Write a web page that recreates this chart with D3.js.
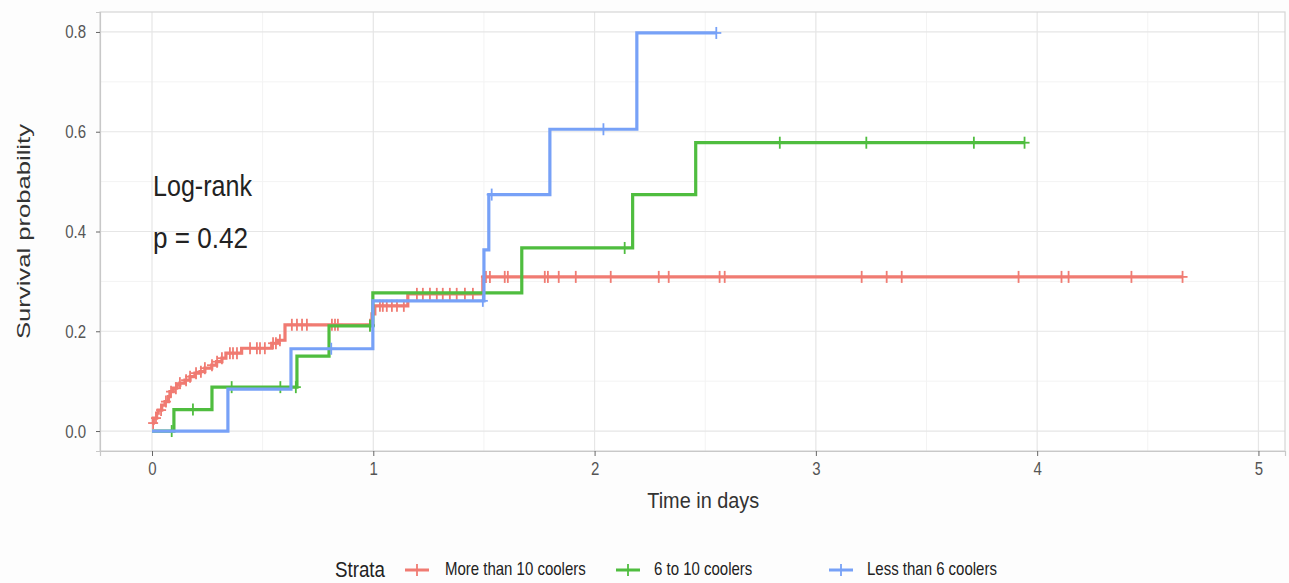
<!DOCTYPE html>
<html>
<head>
<meta charset="utf-8">
<script src="https://cdn.jsdelivr.net/npm/d3@7"></script>
<style>
  body { margin: 0; background: #fdfdfd; }
  svg text { font-family: "Liberation Sans", Arial, sans-serif; }
</style>
</head>
<body>
<svg id="chart"></svg>
<script>
const width = 1289;
const height = 583;

// Strata
const strata = ["More than 10 coolers", "6 to 10 coolers", "Less than 6 coolers"];
const colors = ["#f07b72", "#4fbd3f", "#77a1f7"];

// More than 10 coolers: step times and values
const redTimes = [0, 0.006, 0.021, 0.028, 0.044, 0.059, 0.074, 0.081, 0.096, 0.112, 0.126, 0.149, 0.172, 0.194,
    0.217, 0.239, 0.270, 0.292, 0.316, 0.334, 0.405, 0.541, 0.569, 0.601, 0.994, 1.007, 1.156, 1.495];
const redValues = [0.016, 0.026, 0.036, 0.042, 0.052, 0.059, 0.069, 0.079, 0.086, 0.092, 0.096, 0.102, 0.109, 0.116,
    0.119, 0.126, 0.132, 0.139, 0.146, 0.156, 0.166, 0.176, 0.182, 0.213, 0.235, 0.251, 0.275, 0.309];
const redEnd = 4.657;
const redCensor = [0.005, 0.018, 0.041, 0.063, 0.086, 0.108, 0.126, 0.154, 0.172, 0.199, 0.221, 0.239, 0.271, 0.294,
    0.316, 0.352, 0.366, 0.384, 0.443, 0.474, 0.488, 0.510, 0.547, 0.560, 0.578, 0.632, 0.655, 0.678, 0.700,
    0.813, 0.827, 0.840, 0.985, 1.030, 1.043, 1.061, 1.084, 1.107, 1.138, 1.197, 1.224, 1.256, 1.287, 1.314,
    1.346, 1.377, 1.414, 1.450, 1.509, 1.527, 1.594, 1.608, 1.671, 1.775, 1.789, 1.838, 1.915, 2.073, 2.290,
    2.335, 2.565, 2.588, 3.207, 3.320, 3.388, 3.916, 4.110, 4.142, 4.426, 4.657];

// 6 to 10 coolers
const greenTimes = [0, 0.099, 0.271, 0.655, 0.800, 0.998, 1.671, 2.172, 2.457];
const greenValues = [0, 0.043, 0.088, 0.150, 0.211, 0.277, 0.367, 0.474, 0.578];
const greenEnd = 3.943;
const greenCensor = [0.089, 0.185, 0.360, 0.580, 0.650, 0.985, 2.136, 2.837, 3.228, 3.714, 3.943];

// Less than 6 coolers
const blueTimes = [0, 0.343, 0.628, 0.998, 1.500, 1.522, 1.798, 2.191];
const blueValues = [0, 0.084, 0.165, 0.261, 0.363, 0.474, 0.605, 0.798];
const blueEnd = 2.55;
const blueCensor = [0.810, 1.495, 1.535, 2.040, 2.550];

const xTicks = [0, 1, 2, 3, 4, 5];
const yTicks = [0, 0.2, 0.4, 0.6, 0.8];

const series = [
    { times: redTimes, values: redValues, end: redEnd, censor: redCensor },
    { times: greenTimes, values: greenValues, end: greenEnd, censor: greenCensor },
    { times: blueTimes, values: blueValues, end: blueEnd, censor: blueCensor }
];

const panel = { left: 100, right: 1285, top: 12, bottom: 451 };

const svg = d3.select("#chart")
    .attr("width", width)
    .attr("height", height);

const x = d3.scaleLinear().domain([-0.235, 5.12]).range([panel.left, panel.right]);
const y = d3.scaleLinear().domain([-0.04, 0.84]).range([panel.bottom, panel.top]);

// panel
svg.append("rect")
    .attr("x", panel.left).attr("y", panel.top)
    .attr("width", panel.right - panel.left).attr("height", panel.bottom - panel.top)
    .attr("fill", "#ffffff");

// minor grid
const xMinor = d3.range(0.5, 5.1, 1);
const yMinor = d3.range(0.1, 0.8, 0.2);
svg.selectAll(".xminor").data(xMinor).join("line")
    .attr("x1", d => x(d)).attr("x2", d => x(d))
    .attr("y1", panel.top).attr("y2", panel.bottom)
    .attr("stroke", "#f3f3f3").attr("stroke-width", 1);
svg.selectAll(".yminor").data(yMinor).join("line")
    .attr("y1", d => y(d)).attr("y2", d => y(d))
    .attr("x1", panel.left).attr("x2", panel.right)
    .attr("stroke", "#f3f3f3").attr("stroke-width", 1);

// major grid
svg.selectAll(".xmajor").data(xTicks).join("line")
    .attr("x1", d => x(d)).attr("x2", d => x(d))
    .attr("y1", panel.top).attr("y2", panel.bottom)
    .attr("stroke", "#e6e6e6").attr("stroke-width", 1.2);
svg.selectAll(".ymajor").data(yTicks).join("line")
    .attr("y1", d => y(d)).attr("y2", d => y(d))
    .attr("x1", panel.left).attr("x2", panel.right)
    .attr("stroke", "#e6e6e6").attr("stroke-width", 1.2);

// border
svg.append("rect")
    .attr("x", panel.left).attr("y", panel.top)
    .attr("width", panel.right - panel.left).attr("height", panel.bottom - panel.top)
    .attr("fill", "none").attr("stroke", "#d6d6d6").attr("stroke-width", 1.2);

// axes
const xAxis = svg.append("g")
    .attr("transform", `translate(0,${panel.bottom})`)
    .call(d3.axisBottom(x).tickValues(xTicks).tickFormat(d3.format("d")).tickSize(5));
const yAxis = svg.append("g")
    .attr("transform", `translate(${panel.left},0)`)
    .call(d3.axisLeft(y).tickValues(yTicks).tickFormat(d3.format(".1f")).tickSize(4).tickPadding(10));

[xAxis, yAxis].forEach(g => {
    g.select(".domain").attr("stroke", "#c8c8c8").attr("stroke-width", 1.2);
    g.selectAll(".tick line").attr("stroke", "#666");
    g.selectAll(".tick text")
        .attr("fill", "#555")
        .attr("font-size", 15)
        .attr("font-family", "Liberation Sans, Arial, sans-serif");
});
xAxis.selectAll(".tick text").attr("transform", "translate(0,11) scale(1,1.25)").attr("dy", "0.71em").attr("y", 0);
yAxis.selectAll(".tick text").attr("transform", "scale(1,1.25)").attr("dy", "0.32em");

// step curves
const stepLine = d3.line()
    .x(d => x(d[0]))
    .y(d => y(d[1]))
    .curve(d3.curveStepAfter);

function valueAt(s, t) {
    let v = s.values[0];
    for (let i = 0; i < s.times.length; i++) {
        if (s.times[i] <= t) v = s.values[i];
    }
    return v;
}

series.forEach((s, i) => {
    const pts = s.times.map((t, j) => [t, s.values[j]]);
    pts.push([s.end, s.values[s.values.length - 1]]);
    svg.append("path")
        .datum(pts)
        .attr("d", stepLine)
        .attr("fill", "none")
        .attr("stroke", colors[i])
        .attr("stroke-width", 3.2);

    const marks = svg.append("g");
    s.censor.forEach(t => {
        const cx = x(t), cy = y(valueAt(s, t));
        marks.append("line")
            .attr("x1", cx).attr("x2", cx).attr("y1", cy - 6).attr("y2", cy + 6)
            .attr("stroke", colors[i]).attr("stroke-width", 1.8);
        marks.append("line")
            .attr("x1", cx - 5).attr("x2", cx + 5).attr("y1", cy).attr("y2", cy)
            .attr("stroke", colors[i]).attr("stroke-width", 1.8);
    });
});

// annotation
svg.append("text")
    .attr("transform", "translate(153,196) scale(1,1.2)")
    .attr("font-size", 24).attr("fill", "#222")
    .attr("textLength", 99).attr("lengthAdjust", "spacingAndGlyphs")
    .text("Log-rank");
svg.append("text")
    .attr("transform", "translate(153,248) scale(1,1.2)")
    .attr("font-size", 24).attr("fill", "#222")
    .attr("textLength", 95).attr("lengthAdjust", "spacingAndGlyphs")
    .text("p = 0.42");

// axis titles
svg.append("text")
    .attr("transform", `translate(${(x(0) + x(5)) / 2 - 2},508) scale(1,1.25)`)
    .attr("text-anchor", "middle")
    .attr("font-size", 18).attr("fill", "#333")
    .attr("textLength", 112).attr("lengthAdjust", "spacingAndGlyphs")
    .text("Time in days");
svg.append("text")
    .attr("transform", `translate(30,${(panel.top + panel.bottom) / 2}) rotate(-90)`)
    .attr("text-anchor", "middle")
    .attr("font-size", 19).attr("fill", "#333")
    .attr("textLength", 215).attr("lengthAdjust", "spacingAndGlyphs")
    .text("Survival probability");

// legend
const legendY = 570;
svg.append("text")
    .attr("transform", `translate(335,${legendY + 7}) scale(1,1.25)`)
    .attr("font-size", 17).attr("fill", "#222")
    .attr("textLength", 50).attr("lengthAdjust", "spacingAndGlyphs")
    .text("Strata");

const legendKeyX = [405, 616, 829];
const legendTextX = [445, 654, 867];
strata.forEach((name, i) => {
    const kx = legendKeyX[i];
    svg.append("line")
        .attr("x1", kx).attr("x2", kx + 24).attr("y1", legendY).attr("y2", legendY)
        .attr("stroke", colors[i]).attr("stroke-width", 3);
    svg.append("line")
        .attr("x1", kx + 12).attr("x2", kx + 12).attr("y1", legendY - 6).attr("y2", legendY + 6)
        .attr("stroke", colors[i]).attr("stroke-width", 1.8);
    svg.append("text")
        .attr("transform", `translate(${legendTextX[i]},${legendY + 5}) scale(1,1.2)`)
        .attr("font-size", 15).attr("fill", "#222")
        .text(name);
});
</script>
</body>
</html>
